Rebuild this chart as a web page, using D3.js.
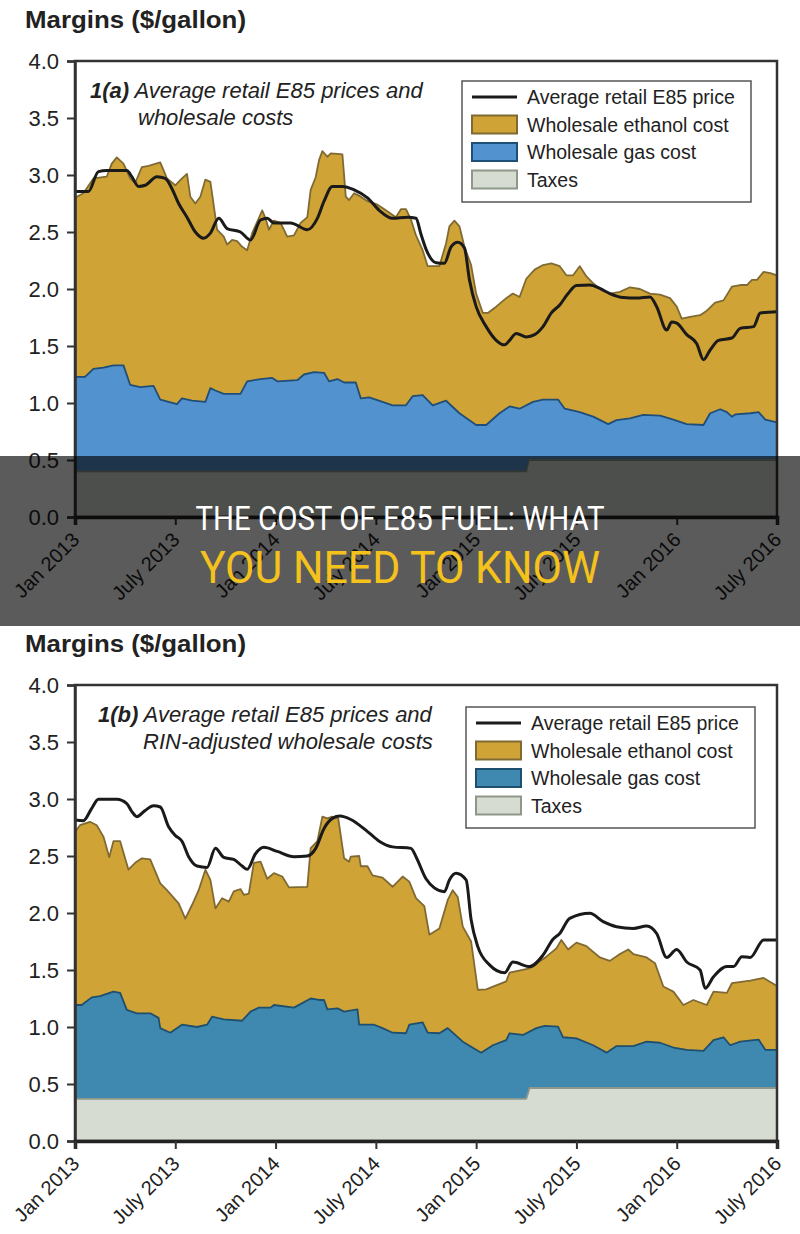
<!DOCTYPE html>
<html>
<head>
<meta charset="utf-8">
<script src="https://cdn.jsdelivr.net/npm/d3@7"></script>
<style>
  body { margin: 0; background: #fff; }
  svg text { font-family: "Liberation Sans", Arial, sans-serif; }
</style>
</head>
<body>
<script>
// Months since Jan 2013 -> tick labels
const tickMonths = [0, 6, 12, 18, 24, 30, 36, 42];
const tickLabels = ["Jan 2013", "July 2013", "Jan 2014", "July 2014", "Jan 2015", "July 2015", "Jan 2016", "July 2016"];
const yTicks = [0, 0.5, 1, 1.5, 2, 2.5, 3, 3.5, 4];

// Panel (a): stacked levels, [month, $/gal]
const ethanolA = [[0,2.80],[0.5,2.84],[1.1,2.97],[1.9,2.985],[2.2,3.10],[2.5,3.155],[2.9,3.10],[3.3,2.97],[3.6,2.93],[4.0,3.07],[4.4,3.08],[5.1,3.11],[5.5,2.97],[6.0,2.91],[6.4,2.97],[6.7,3.01],[6.9,2.81],[7.2,2.75],[7.5,2.81],[7.8,2.96],[8.1,2.94],[8.4,2.63],[8.5,2.52],[8.9,2.46],[9.1,2.39],[9.4,2.43],[9.7,2.42],[10.0,2.37],[10.3,2.34],[10.6,2.49],[10.9,2.59],[11.2,2.69],[11.4,2.62],[11.6,2.52],[11.9,2.60],[12.3,2.58],[12.7,2.46],[13.1,2.47],[13.5,2.58],[13.9,2.63],[14.1,2.87],[14.4,2.98],[14.6,3.13],[14.8,3.21],[15.1,3.16],[15.3,3.19],[15.7,3.185],[16.0,3.18],[16.2,2.81],[16.4,2.78],[16.7,2.84],[17.1,2.81],[17.5,2.77],[18.1,2.74],[18.6,2.69],[18.9,2.66],[19.2,2.63],[19.5,2.70],[19.8,2.70],[20.1,2.61],[20.4,2.47],[20.8,2.34],[21.1,2.20],[21.8,2.20],[22.2,2.40],[22.4,2.55],[22.7,2.60],[23.0,2.55],[23.3,2.37],[23.7,2.21],[24.0,1.96],[24.4,1.79],[24.7,1.79],[25.2,1.845],[25.8,1.92],[26.2,1.96],[26.6,1.93],[27.0,2.09],[27.5,2.17],[28.0,2.21],[28.5,2.225],[29.0,2.20],[29.4,2.12],[29.8,2.12],[30.2,2.20],[30.6,2.11],[31.0,2.05],[31.5,1.99],[32.0,1.96],[32.6,1.975],[33.2,2.015],[33.8,2.0],[34.4,1.96],[35.0,1.95],[35.6,1.92],[36.0,1.845],[36.3,1.74],[36.8,1.755],[37.4,1.77],[37.8,1.81],[38.3,1.88],[38.8,1.90],[39.3,2.02],[39.8,2.035],[40.2,2.035],[40.5,2.08],[40.8,2.08],[41.2,2.15],[41.6,2.14],[42,2.12]];
const gasA = [[0,1.23],[0.6,1.23],[1.1,1.30],[1.7,1.31],[2.3,1.33],[2.9,1.33],[3.3,1.16],[3.9,1.14],[4.7,1.15],[5.1,1.03],[6.1,0.99],[6.4,1.04],[7.0,1.02],[7.8,1.01],[8.1,1.13],[8.4,1.11],[8.9,1.08],[9.9,1.08],[10.3,1.19],[11.1,1.21],[11.8,1.22],[12.1,1.19],[13.3,1.20],[13.7,1.25],[14.3,1.27],[14.9,1.265],[15.2,1.19],[15.7,1.21],[16.1,1.18],[16.8,1.18],[17.1,1.04],[17.6,1.05],[18.4,1.01],[19.0,0.98],[19.8,0.98],[20.2,1.06],[20.8,1.07],[21.4,0.98],[22.2,1.02],[23.0,0.91],[24.0,0.807],[24.6,0.807],[25.4,0.91],[26.0,0.97],[26.6,0.95],[27.4,1.01],[28.0,1.03],[28.9,1.03],[29.3,0.95],[30.2,0.92],[31.0,0.88],[31.9,0.815],[32.4,0.85],[33.2,0.865],[34.0,0.895],[35.0,0.89],[35.8,0.855],[36.6,0.815],[37.6,0.807],[38.0,0.91],[38.6,0.945],[39.0,0.92],[39.3,0.88],[39.5,0.90],[40.4,0.91],[40.9,0.92],[41.3,0.855],[42,0.83]];
const taxesA = [[0,0.40],[27.0,0.40],[27.15,0.50],[42,0.50]];
const retailA = [[0,2.855],[0.8,2.855],[1.4,3.03],[1.9,3.04],[3.1,3.04],[3.4,2.985],[3.8,2.90],[4.2,2.91],[4.9,2.985],[5.4,2.97],[5.8,2.88],[6.2,2.75],[6.7,2.63],[7.2,2.50],[7.7,2.445],[8.1,2.49],[8.6,2.62],[9.1,2.53],[9.9,2.50],[10.5,2.43],[11.1,2.605],[11.5,2.62],[11.9,2.58],[12.9,2.58],[13.9,2.52],[14.5,2.62],[14.9,2.77],[15.4,2.90],[16.0,2.90],[16.7,2.87],[17.5,2.80],[18.2,2.69],[19.0,2.62],[19.9,2.63],[20.4,2.62],[20.7,2.48],[21.0,2.35],[21.6,2.23],[22.1,2.225],[22.5,2.37],[22.9,2.41],[23.3,2.36],[23.6,2.08],[24.0,1.845],[24.6,1.67],[25.2,1.55],[25.7,1.51],[26.0,1.55],[26.4,1.61],[27.0,1.58],[27.5,1.60],[28.0,1.67],[28.5,1.79],[29.0,1.86],[29.5,1.96],[30.0,2.03],[30.8,2.035],[31.4,2.005],[32.0,1.96],[32.8,1.925],[33.6,1.92],[34.4,1.93],[34.8,1.845],[35.4,1.64],[35.7,1.71],[36.0,1.70],[36.6,1.60],[37.2,1.52],[37.6,1.38],[38.0,1.465],[38.5,1.55],[39.3,1.57],[39.8,1.655],[40.6,1.67],[41.0,1.79],[42,1.80]];

// Panel (b): RIN-adjusted levels
const ethanolB = [[0,2.71],[0.3,2.77],[0.9,2.80],[1.3,2.77],[1.7,2.67],[2.05,2.49],[2.3,2.63],[2.7,2.63],[3.2,2.38],[3.6,2.44],[4.0,2.48],[4.5,2.47],[5.1,2.26],[5.5,2.20],[6.2,2.085],[6.6,1.95],[7.0,2.07],[7.4,2.20],[7.8,2.38],[8.1,2.29],[8.4,2.04],[8.8,2.13],[9.2,2.10],[9.5,2.19],[9.9,2.21],[10.1,2.16],[10.4,2.17],[10.7,2.44],[11.1,2.45],[11.5,2.30],[11.9,2.35],[12.4,2.32],[12.8,2.225],[13.9,2.23],[14.1,2.57],[14.5,2.63],[14.8,2.845],[15.1,2.83],[15.4,2.845],[15.75,2.83],[16.1,2.48],[16.4,2.45],[16.5,2.495],[17.0,2.50],[17.1,2.41],[17.5,2.41],[17.8,2.33],[18.4,2.31],[19.0,2.23],[19.6,2.32],[20.0,2.275],[20.4,2.13],[20.9,2.06],[21.2,1.81],[21.8,1.865],[22.3,2.115],[22.6,2.20],[22.9,2.14],[23.2,1.88],[23.7,1.75],[24.1,1.325],[24.6,1.33],[25.8,1.40],[26.0,1.476],[27.2,1.515],[28.2,1.617],[28.8,1.69],[29.1,1.764],[29.5,1.68],[30.0,1.74],[30.6,1.71],[31.4,1.61],[32.0,1.58],[32.6,1.64],[33.1,1.68],[33.4,1.64],[34.2,1.61],[34.7,1.56],[35.2,1.355],[35.8,1.31],[36.4,1.193],[37.0,1.237],[37.8,1.193],[38.2,1.31],[39.0,1.30],[39.3,1.384],[40.4,1.407],[41.2,1.43],[42,1.36]];
const gasB = [[0,1.193],[0.4,1.193],[1.0,1.26],[1.5,1.27],[2.3,1.31],[2.7,1.30],[3.1,1.15],[3.7,1.12],[4.5,1.12],[5.0,1.08],[5.1,0.99],[5.7,0.95],[6.4,1.02],[7.3,1.0],[7.9,1.02],[8.2,1.09],[8.9,1.067],[10.0,1.055],[10.5,1.135],[11.0,1.17],[11.7,1.17],[11.9,1.193],[13.1,1.17],[14.1,1.25],[14.6,1.237],[14.9,1.237],[15.1,1.155],[15.7,1.164],[16.1,1.135],[16.9,1.155],[17.0,1.02],[17.9,1.02],[18.4,0.99],[19.0,0.95],[19.8,0.945],[20.0,1.02],[20.8,1.04],[21.1,0.95],[21.8,0.945],[22.3,0.99],[23.2,0.871],[24.3,0.775],[25.0,0.84],[25.8,0.885],[26.0,0.945],[26.8,0.93],[27.6,0.99],[28.1,1.01],[28.9,1.003],[29.2,0.91],[30.0,0.90],[31.0,0.84],[31.8,0.775],[32.4,0.833],[33.4,0.833],[34.2,0.871],[35.0,0.862],[35.8,0.82],[36.6,0.80],[37.6,0.79],[38.2,0.885],[38.8,0.91],[39.2,0.84],[39.8,0.871],[40.6,0.885],[40.9,0.89],[41.3,0.80],[42,0.80]];
const taxesB = [[0,0.37],[27.0,0.37],[27.2,0.465],[42,0.465]];
const retailB = [[0,2.816],[0.5,2.81],[1.0,2.918],[1.4,2.997],[2.5,2.997],[3.1,2.96],[3.4,2.89],[3.7,2.845],[4.2,2.90],[4.7,2.94],[5.1,2.93],[5.6,2.757],[6.0,2.68],[6.4,2.63],[6.8,2.494],[7.3,2.412],[7.9,2.40],[8.4,2.567],[8.9,2.488],[9.5,2.47],[10.0,2.412],[10.3,2.383],[10.8,2.52],[11.3,2.576],[12.1,2.54],[13.1,2.494],[13.9,2.50],[14.4,2.567],[14.9,2.742],[15.4,2.83],[15.85,2.85],[16.5,2.82],[17.5,2.714],[18.2,2.63],[19.0,2.58],[20.1,2.567],[20.4,2.494],[21.0,2.30],[21.5,2.22],[22.1,2.187],[22.4,2.29],[22.8,2.348],[23.4,2.29],[23.7,1.94],[24.1,1.705],[24.8,1.545],[25.7,1.476],[26.2,1.57],[27.2,1.53],[28.0,1.63],[28.6,1.77],[29.0,1.82],[29.6,1.953],[30.8,1.997],[31.6,1.924],[32.4,1.88],[33.4,1.865],[34.2,1.886],[34.8,1.82],[35.4,1.61],[36.0,1.68],[36.6,1.57],[37.4,1.50],[37.7,1.339],[38.2,1.44],[39.0,1.53],[39.4,1.53],[39.9,1.617],[40.4,1.61],[41.2,1.764],[42,1.764]];

const legendLabels = ["Average retail E85 price", "Wholesale ethanol cost", "Wholesale gas cost", "Taxes"];

const W = 800, H = 1234;
const svg = d3.select("body").append("svg").attr("width", W).attr("height", H);

const x = d3.scaleLinear().domain([0, 42]).range([75, 777]);

const ethanolCol = { fill: "#d0a336", stroke: "#7f6a33" };
const taxCol = { fill: "#d6dcd2", stroke: "#8f978a" };

function drawPanel(p) {
  const y = d3.scaleLinear().domain([0, 4]).range([p.y0, p.y0 - 456]);
  const g = svg.append("g");

  // header
  g.append("text")
    .attr("x", 25).attr("y", p.y0 - 489)
    .attr("font-size", 23).attr("font-weight", "bold").attr("fill", "#222")
    .attr("textLength", 221).attr("lengthAdjust", "spacingAndGlyphs")
    .text("Margins ($/gallon)");

  const area = d3.area().x(d => x(d[0])).y0(y(0)).y1(d => y(d[1]));
  const edge = d3.line().x(d => x(d[0])).y(d => y(d[1]));

  // stacked levels painted back to front
  [[p.ethanol, ethanolCol], [p.gas, p.gasCol], [p.taxes, taxCol]].forEach(([data, c]) => {
    g.append("path").datum(data).attr("d", area).attr("fill", c.fill);
    g.append("path").datum(data).attr("d", edge)
      .attr("fill", "none").attr("stroke", c.stroke).attr("stroke-width", 1.8)
      .attr("stroke-linejoin", "round");
  });

  g.append("path").datum(p.retail)
    .attr("d", edge.curve(d3.curveMonotoneX))
    .attr("fill", "none").attr("stroke", "#1a1a1a").attr("stroke-width", 3);

  // frame
  g.append("rect")
    .attr("x", x(0)).attr("y", y(4))
    .attr("width", x(42) - x(0)).attr("height", y(0) - y(4))
    .attr("fill", "none").attr("stroke", "#333").attr("stroke-width", 2.5);

  const yAxis = g.append("g")
    .attr("transform", `translate(${x(0)},0)`)
    .call(d3.axisLeft(y).tickValues(yTicks).tickFormat(d3.format(".1f")).tickSize(8).tickPadding(8));
  yAxis.select(".domain").attr("stroke", "#333").attr("stroke-width", 2.5);
  yAxis.selectAll(".tick line").attr("stroke", "#333").attr("stroke-width", 2);
  yAxis.selectAll("text").attr("font-size", 22).attr("fill", "#222")
    .attr("font-family", "Liberation Sans, Arial, sans-serif");

  const xAxis = g.append("g")
    .attr("transform", `translate(0,${y(0)})`)
    .call(d3.axisBottom(x).tickValues(tickMonths).tickFormat((d, i) => tickLabels[i]).tickSize(8));
  xAxis.select(".domain").attr("stroke", "#222").attr("stroke-width", 3.5);
  xAxis.selectAll(".tick line").attr("stroke", "#333").attr("stroke-width", 2);
  xAxis.selectAll("text")
    .attr("x", 0).attr("y", 0).attr("dy", null)
    .attr("transform", "translate(5,24) rotate(-45)")
    .attr("text-anchor", "end")
    .attr("font-size", 20).attr("fill", "#222")
    .attr("font-family", "Liberation Sans, Arial, sans-serif");

  // panel title
  const t1 = g.append("text").attr("x", p.titleX).attr("y", y(4) + 37)
    .attr("font-size", 22).attr("font-style", "italic").attr("fill", "#222");
  t1.append("tspan").attr("font-weight", "bold").text(p.tag);
  t1.append("tspan").text(" Average retail E85 prices and");
  g.append("text").attr("x", p.titleX2).attr("y", y(4) + 64)
    .attr("font-size", 22).attr("font-style", "italic").attr("fill", "#222")
    .text(p.title2);

  // legend
  const lg = g.append("g").attr("transform", `translate(${p.legX},${y(4) + p.legDy})`);
  lg.append("rect").attr("width", 289).attr("height", 121)
    .attr("fill", "#fff").attr("stroke", "#555").attr("stroke-width", 1.5);
  const rowY = i => 16 + i * 27.5;
  lg.append("line").attr("x1", 10).attr("x2", 55).attr("y1", rowY(0)).attr("y2", rowY(0))
    .attr("stroke", "#1a1a1a").attr("stroke-width", 3);
  [ethanolCol, p.gasCol, taxCol].forEach((c, i) => {
    lg.append("rect").attr("x", 10).attr("y", rowY(i + 1) - 9)
      .attr("width", 45).attr("height", 18)
      .attr("fill", c.fill).attr("stroke", c.stroke).attr("stroke-width", 2);
  });
  lg.selectAll("text.leg").data(legendLabels).join("text")
    .attr("class", "leg")
    .attr("x", 65).attr("y", (d, i) => rowY(i) + 7)
    .attr("font-size", 19.5).attr("fill", "#222")
    .text(d => d);
}

drawPanel({
  y0: 517, tag: "1(a)", title2: "wholesale costs", titleX: 90, titleX2: 138,
  ethanol: ethanolA, gas: gasA, taxes: taxesA, retail: retailA,
  gasCol: { fill: "#5292ce", stroke: "#1f4e79" },
  legX: 462, legDy: 20
});
drawPanel({
  y0: 1141, tag: "1(b)", title2: "RIN-adjusted wholesale costs", titleX: 98, titleX2: 143,
  ethanol: ethanolB, gas: gasB, taxes: taxesB, retail: retailB,
  gasCol: { fill: "#3f89b0", stroke: "#1f4f6e" },
  legX: 466, legDy: 22
});

// headline banner over the first chart
const banner = svg.append("g");
banner.append("rect").attr("x", 0).attr("y", 456).attr("width", W).attr("height", 170)
  .attr("fill", "rgba(0,0,0,0.645)");
banner.append("text")
  .attr("x", 400).attr("y", 530).attr("text-anchor", "middle")
  .attr("font-size", 33).attr("fill", "#fff")
  .attr("textLength", 409).attr("lengthAdjust", "spacingAndGlyphs")
  .style("font-family", "Roboto, 'Liberation Sans', sans-serif")
  .text("THE COST OF E85 FUEL: WHAT");
banner.append("text")
  .attr("x", 400).attr("y", 583).attr("text-anchor", "middle")
  .attr("font-size", 45).attr("fill", "#f5c21b")
  .attr("textLength", 400).attr("lengthAdjust", "spacingAndGlyphs")
  .style("font-family", "Roboto, 'Liberation Sans', sans-serif")
  .text("YOU NEED TO KNOW");
</script>
</body>
</html>
